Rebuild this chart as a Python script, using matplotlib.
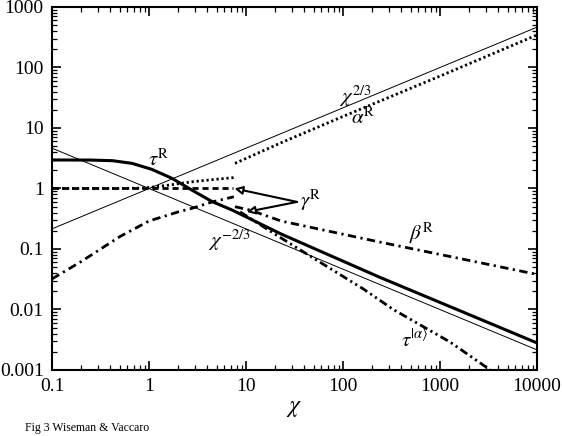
import matplotlib
matplotlib.use('Agg')
import matplotlib.pyplot as plt

plt.rcParams['font.family'] = ['Liberation Serif', 'DejaVu Serif']
plt.rcParams['mathtext.fontset'] = 'stix'

# reference power laws (end points)
pow_x = [0.1, 10000]
pos_y = [0.215, 464]      # chi^(2/3)
neg_y = [4.64, 0.00215]   # chi^(-2/3)

# tau^R (thick solid)
tau_x = [0.1, 0.25, 0.42, 0.67, 1.07, 1.73, 2.77, 4.45, 7.2, 23, 240, 10000]
tau_y = [2.96, 2.95, 2.88, 2.6, 2.07, 1.47, 0.94, 0.61, 0.44, 0.177, 0.034, 0.0028]

# gamma^R low-chi branch (dashed)
gam_x = [0.1, 1, 7.4]
gam_y = [1.0, 1.0, 1.0]

# alpha^R, two branches (dotted)
alo_x = [0.1, 0.5, 0.9, 1.5, 2.77, 4.5, 7.7]
alo_y = [1.0, 1.0, 1.02, 1.12, 1.29, 1.4, 1.52]
ahi_x = [7.7, 23, 100, 1000, 10000]
ahi_y = [2.6, 5.7, 15.5, 72, 345]

# beta^R, two branches (dash-dot)
blo_x = [0.1, 0.2, 0.5, 1, 2, 2.77, 4.5, 7.5]
blo_y = [0.032, 0.062, 0.16, 0.29, 0.41, 0.47, 0.6, 0.73]
bhi_x = [7.7, 11, 23, 240, 10000]
bhi_y = [0.5, 0.44, 0.29, 0.13, 0.038]

# tau^(alpha) (dash-dot-dot)
ta_x = [8.7, 20, 50, 161, 330, 1270, 3300]
ta_y = [0.41, 0.175, 0.07, 0.022, 0.0100, 0.0029, 0.001]

xticks = [0.1, 1, 10, 100, 1000, 10000]
xlabels = ['0.1', '1', '10', '100', '1000', '10000']
yticks = [0.001, 0.01, 0.1, 1, 10, 100, 1000]
ylabels = ['0.001', '0.01', '0.1', '1', '10', '100', '1000']

fig = plt.figure(figsize=(5.62, 4.36), dpi=100)
ax = fig.add_axes([0.0925, 0.1514, 0.863, 0.8326])

ax.plot(pow_x, pos_y, color='black', lw=0.7)
ax.plot(pow_x, neg_y, color='black', lw=0.7)
ax.plot(tau_x, tau_y, color='black', lw=2.2)
ax.plot(gam_x, gam_y, color='black', lw=2.0, dashes=(2.2, 1.4))
ax.plot(alo_x, alo_y, color='black', lw=2.0, dashes=(0.8, 1.0))
ax.plot(ahi_x, ahi_y, color='black', lw=2.0, dashes=(0.8, 1.0))
ax.plot(blo_x, blo_y, color='black', lw=2.0, dashes=(3, 1.6, 0.8, 1.6))
ax.plot(bhi_x, bhi_y, color='black', lw=2.0, dashes=(3, 1.6, 0.8, 1.6))
ax.plot(ta_x, ta_y, color='black', lw=2.0, dashes=(3, 1.3, 0.8, 1.3, 0.8, 1.3))

# arrows from gamma^R label
for tip in [(7.6, 1.0), (10.2, 0.41)]:
    ax.annotate('', xy=tip, xytext=(33.6, 0.60),
                arrowprops=dict(arrowstyle='-|>', fc='white', ec='black',
                                lw=1.5, mutation_scale=12, shrinkA=0, shrinkB=0))

ax.text(0.98, 2.35, r'$\tau^{\mathrm{R}}$', fontsize=15)
ax.text(91, 25.9, r'$\chi^{2/3}$', fontsize=15)
ax.text(121, 11.6, r'$\alpha^{\mathrm{R}}$', fontsize=15)
ax.text(36, 0.65, r'$\gamma^{\mathrm{R}}$', fontsize=15, va='center')
ax.text(479, 0.18, r'$\beta^{\mathrm{R}}$', fontsize=15, va='center')
ax.text(4.05, 0.14, r'$\chi^{-2/3}$', fontsize=15, va='center')
ax.text(396, 0.0031, r'$\tau^{|\alpha\rangle}$', fontsize=15, va='center')

ax.set_xscale('log')
ax.set_yscale('log')
ax.set_xlim(0.1, 10000)
ax.set_ylim(0.001, 1000)
ax.set_xticks(xticks)
ax.set_xticklabels(xlabels)
ax.set_yticks(yticks)
ax.set_yticklabels(ylabels)
ax.tick_params(which='both', direction='in', top=True, right=True, labelsize=14)
ax.tick_params(which='major', length=6.5, width=1.2, pad=6)
ax.tick_params(which='minor', length=3.6, width=0.9)
for s in ax.spines.values():
    s.set_linewidth(1.5)

ax.set_xlabel(r'$\chi$', fontsize=17, labelpad=2)

fig.text(25 / 562, 1 - 428 / 436, 'Fig 3 Wiseman & Vaccaro', fontsize=8.5, va='center')

fig.savefig('out.png', dpi=100)
